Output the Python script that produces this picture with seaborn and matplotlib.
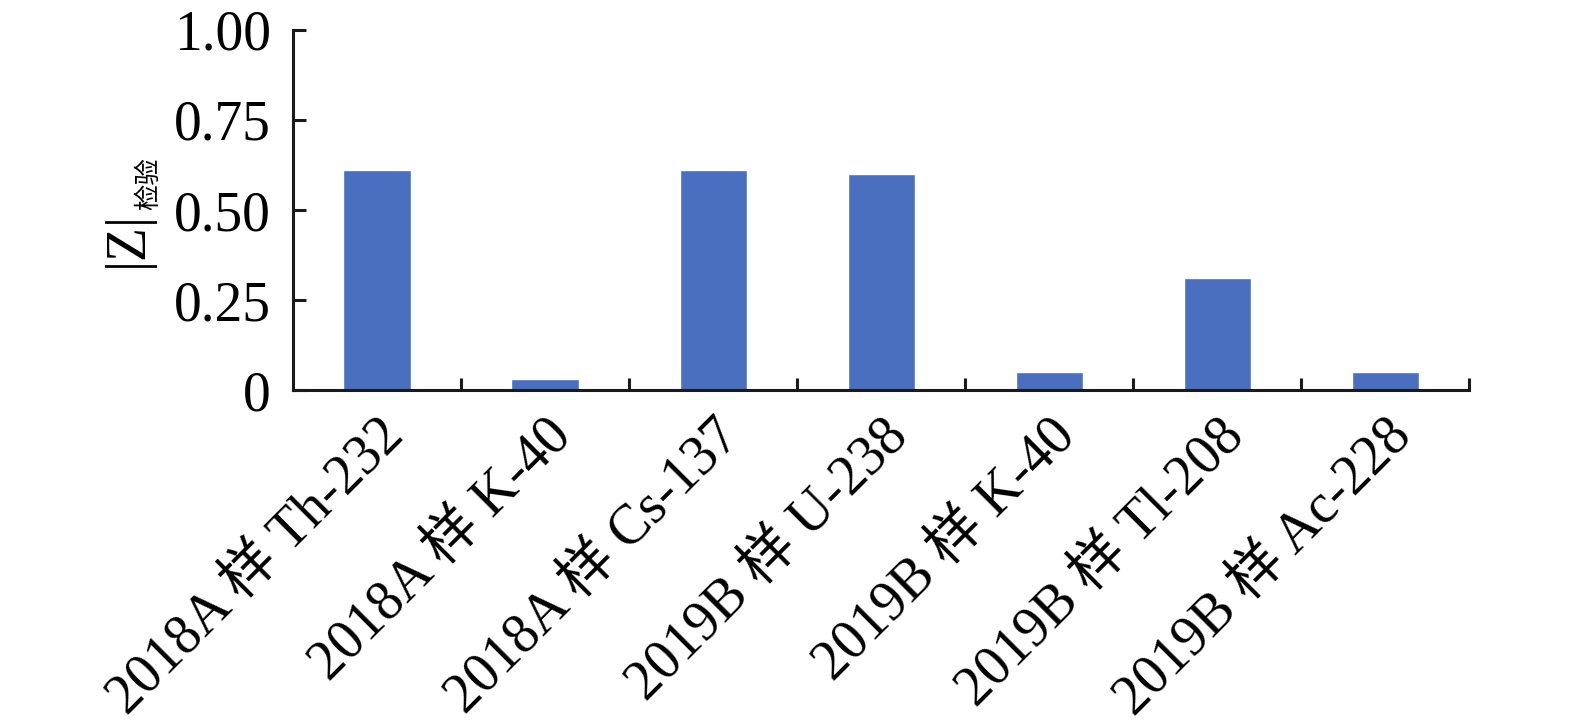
import numpy as np
import pandas as pd
import seaborn as sns
import matplotlib.pyplot as plt

# Data
samples = ['2018A 样 Th-232', '2018A 样 K-40', '2018A 样 Cs-137', '2019B 样 U-238',
           '2019B 样 K-40', '2019B 样 Tl-208', '2019B 样 Ac-228']
z_values = [0.61, 0.03, 0.61, 0.60, 0.05, 0.31, 0.05]
y_ticks = [0, 0.25, 0.50, 0.75, 1.00]
y_tick_labels = ['0', '0.25', '0.50', '0.75', '1.00']

sns.set_style('white')
plt.rcParams['font.family'] = ['Liberation Serif', 'Noto Sans CJK SC', 'DejaVu Sans']
plt.rcParams['text.color'] = 'black'
plt.rcParams['xtick.color'] = 'black'
plt.rcParams['ytick.color'] = 'black'

df = pd.DataFrame({'sample': samples, 'z': z_values})

fig = plt.figure(figsize=(15.75, 7.28), dpi=100)
ax = fig.add_axes([0.186, 0.464, 0.747, 0.495])

sns.barplot(data=df, x='sample', y='z', color='#4A6FBE', width=0.4,
            saturation=1, ax=ax)

ax.set_xlim(-0.5, len(samples) - 0.5)
ax.set_ylim(0, 1.0)
ax.set_yticks(y_ticks)
ax.set_yticklabels(y_tick_labels)

# Spines: only left and bottom
for side in ['top', 'right']:
    ax.spines[side].set_visible(False)
for side in ['left', 'bottom']:
    ax.spines[side].set_linewidth(2.2)
    ax.spines[side].set_color('#1a1a1a')

# x ticks between categories, pointing inward
ax.set_xticks(np.arange(len(samples)))
ax.set_xticks(np.arange(len(samples)) + 0.5, minor=True)
ax.tick_params(axis='x', which='major', length=0, pad=14, labelsize=40)
ax.tick_params(axis='x', which='minor', direction='in', length=9, width=2.2,
               color='#1a1a1a', bottom=True)
ax.tick_params(axis='y', direction='in', length=9, width=2.2, color='#1a1a1a',
               pad=16, labelsize=40, left=True)
ax.set_xticklabels(samples, rotation=45, ha='right', rotation_mode='anchor')

ax.set_xlabel('')
ax.set_ylabel('')

# y label |Z| with small subscript
fig.text(0.0813, 0.672, '|Z|', rotation=90, fontsize=40, ha='center', va='center')
fig.text(0.0945, 0.748, '检验', rotation=90, fontsize=19, ha='center', va='center')

fig.savefig('out.png', dpi=100)
